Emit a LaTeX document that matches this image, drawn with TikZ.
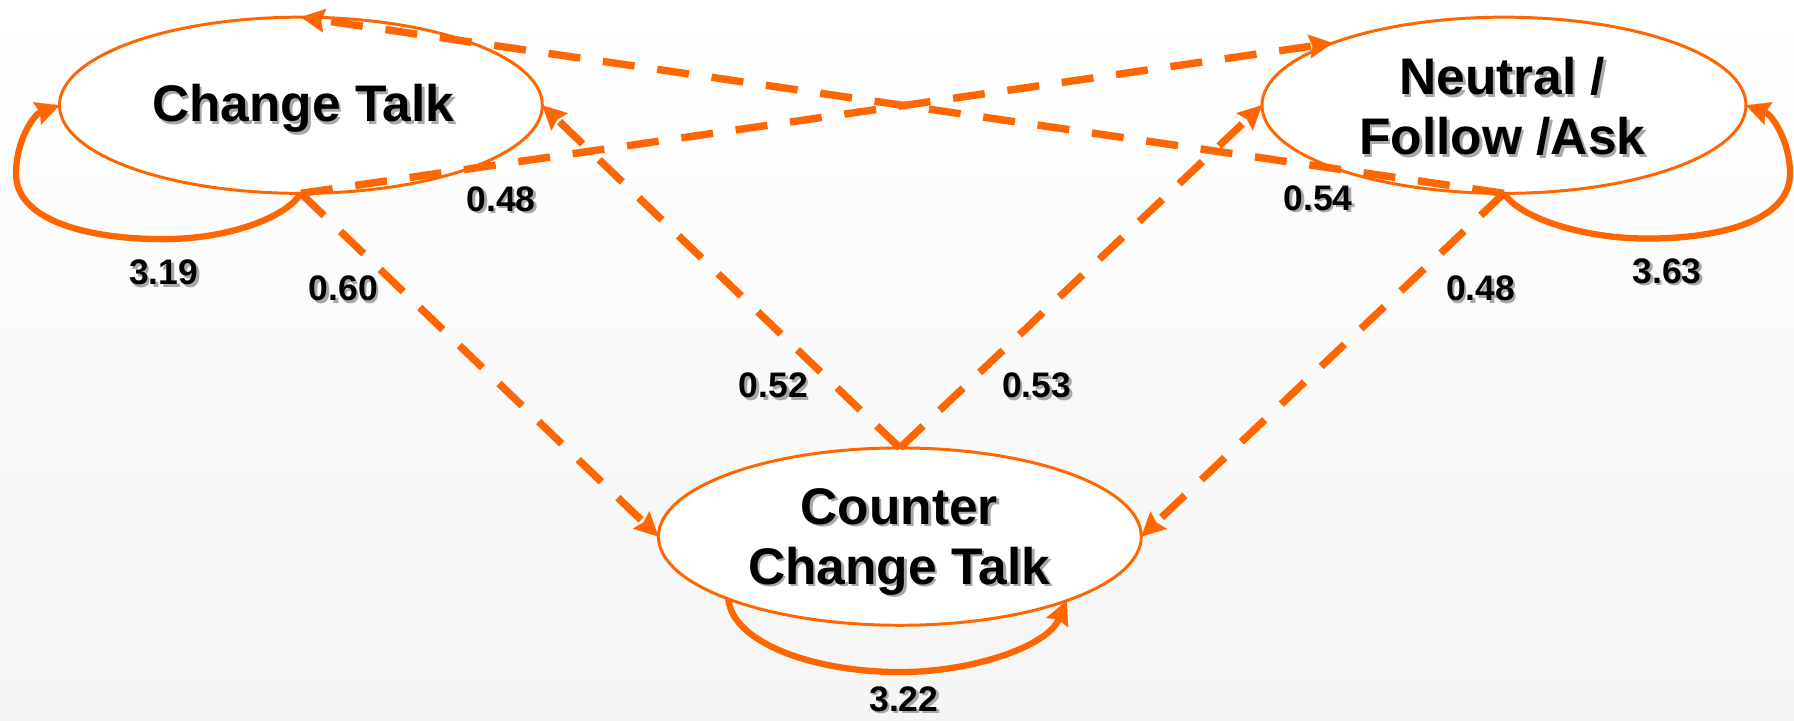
\documentclass[tikz,border=0pt]{standalone}
\usepackage{fontspec}
\setmainfont{Liberation Sans}
\usetikzlibrary{arrows.meta,shapes.geometric}

\definecolor{flow}{RGB}{255,102,0}
\definecolor{txtshade}{RGB}{168,168,168}
\definecolor{bgbottom}{RGB}{245,245,245}

\tikzset{
  state/.style={ellipse, draw=flow, line width=2.6pt, fill=white,
                inner sep=0pt, outer sep=0pt},
  statetext/.style={font=\fontsize{45}{52.5}\selectfont\bfseries,
                    align=center, inner sep=0pt},
  weight/.style={font=\fontsize{31}{36}\selectfont\bfseries, inner sep=0pt},
  headtip/.style={-{Stealth[length=21pt,width=21pt,inset=3pt,line width=0.1pt]}},
  link/.style={draw=flow, line width=6.5pt, dash pattern=on 28pt off 20pt, headtip},
  selfloop/.style={draw=flow, line width=5.5pt, headtip},
}

% text with a soft grey drop shadow: name, position, style, text
\newcommand\shadowed[4]{%
  \node[#3, text=txtshade] (#1-shade) at ([shift={(2.3,2.3)}]#2) {#4};
  \node[#3] (#1) at (#2) {#4};}

\begin{document}
\begin{tikzpicture}[x=1pt,y=-1pt]
  % page background
  \fill[top color=white, bottom color=bgbottom] (0,0) rectangle (1568,630);
  \useasboundingbox (0,0) rectangle (1568,630);

  % states
  \node[state, minimum width=422pt, minimum height=154pt] (ct) at (263,92) {};
  \node[state, minimum width=423pt, minimum height=154pt] (nf) at (1314.5,92) {};
  \node[state, minimum width=422pt, minimum height=155pt] (cc) at (786.5,469) {};

  % transitions between states
  \draw[link] (ct.south) -- (nf.160);
  \draw[link] (nf.south) -- (ct.north);
  \draw[link] (ct.south) -- (cc.west);
  \draw[link] (cc.north) -- (ct.east);
  \draw[link] (cc.north) -- (nf.west);
  \draw[link] (nf.south) -- (cc.east);

  % staying in the same state
  \draw[selfloop] (ct.south) .. controls (250,190) and (200,209) .. (143,209)
        .. controls (75,209) and (14,192) .. (14,152)
        .. controls (14,122) and (30,100) .. (ct.west);
  \draw[selfloop] (nf.south) .. controls (1328,190) and (1382,208.5) .. (1440,208.5)
        .. controls (1505,208.5) and (1564.5,192) .. (1564.5,152)
        .. controls (1564.5,122) and (1548,100) .. (nf.east);
  \draw[selfloop] (cc.200) .. controls (640,562) and (712,587.4) .. (786.5,587.4)
        .. controls (850,587.4) and (915,565) .. (cc.339);

  % state names
  \shadowed{ct-name}{265,95}{statetext}{Change Talk}
  \shadowed{nf-name}{1313,93}{statetext}{Neutral /\\Follow /Ask}
  \shadowed{cc-name}{786,473.4}{statetext}{Counter\\Change Talk}

  % transition weights
  \shadowed{w-ct-ct}{143,238}{weight}{3.19}
  \shadowed{w-ct-cc}{300,252}{weight}{0.60}
  \shadowed{w-ct-nf}{438,174}{weight}{0.48}
  \shadowed{w-nf-ct}{1152,173}{weight}{0.54}
  \shadowed{w-nf-cc}{1294,252}{weight}{0.48}
  \shadowed{w-nf-nf}{1457,237}{weight}{3.63}
  \shadowed{w-cc-ct}{676,337}{weight}{0.52}
  \shadowed{w-cc-nf}{906,337}{weight}{0.53}
  \shadowed{w-cc-cc}{790,611}{weight}{3.22}
\end{tikzpicture}
\end{document}
